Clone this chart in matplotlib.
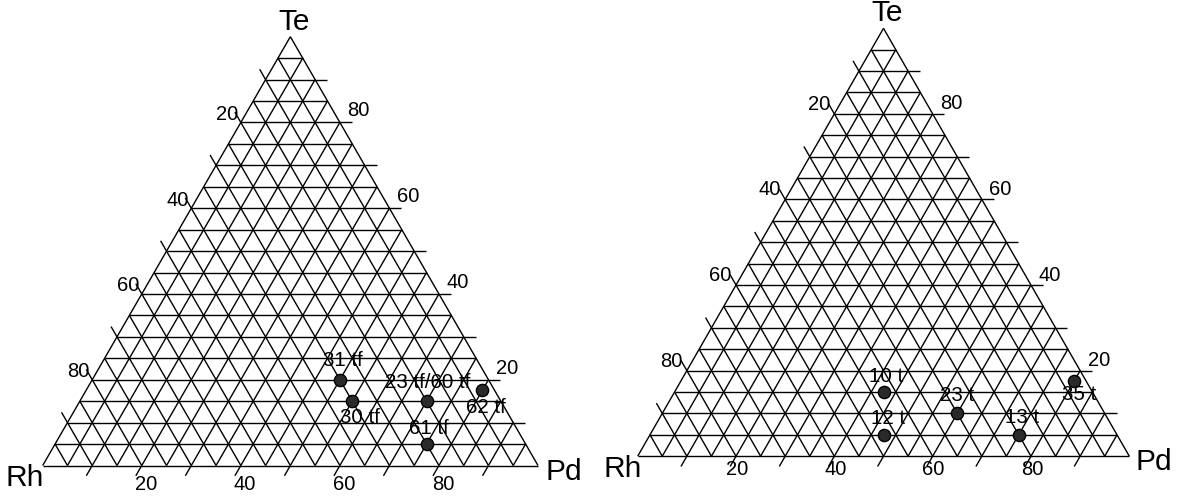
import numpy as np
import matplotlib.pyplot as plt

plt.rcParams['font.family'] = ['Liberation Sans', 'DejaVu Sans']

# compositions in % (Rh, Pd, Te)
left_names = ['31 tf', '30 tf', '23 tf/60 tf', '62 tf', '61 tf']
left_rh = [30, 30, 15, 2.5, 20]
left_pd = [50, 55, 70, 80, 75]
left_te = [20, 15, 15, 17.5, 5]

right_names = ['10 t', '12 t', '23 t', '13 t', '35 t']
right_rh = [42.5, 47.5, 30, 20, 2.5]
right_pd = [42.5, 47.5, 60, 75, 80]
right_te = [15, 5, 10, 5, 17.5]

tick_values = [20, 40, 60, 80]
corner_names = ['Rh', 'Pd', 'Te']

W, H = 1177, 497
H3 = np.sqrt(3) / 2
fig = plt.figure(figsize=(W / 100, H / 100), dpi=100)


def to_xy(pd, te):
    pd = np.asarray(pd, dtype=float) / 100
    te = np.asarray(te, dtype=float) / 100
    return pd + te / 2, te * H3


def add_tri_axes(x_rh, x_pd, y_base, y_top):
    # place an axes so that the triangle lands on the given pixel corners
    sx = x_pd - x_rh
    sy = (y_base - y_top) / H3
    m = 0.15
    left = x_rh - m * sx
    bottom = (H - y_base) - m * sy
    ax = fig.add_axes([left / W, bottom / H, (1 + 2 * m) * sx / W, (H3 + 2 * m) * sy / H])
    ax.set_xlim(-m, 1 + m)
    ax.set_ylim(-m, H3 + m)
    ax.axis('off')
    return ax


def seg(ax, p, q):
    ax.plot([p[0], q[0]], [p[1], q[1]], color='black', lw=1.0, solid_capstyle='butt')


def label(ax, pd, te, text, dx, dy, size, ha='center', va='center'):
    x, y = to_xy(pd, te)
    ax.annotate(text, (x, y), xytext=(dx, -dy), textcoords='offset pixels',
                ha=ha, va=va, fontsize=size, color='black', annotation_clip=False)


def draw_ternary(ax, rh, pd, te, names, name_off, tick_off, corner_off):
    tl = 0.024
    for i in range(20):
        f = i * 5
        seg(ax, to_xy(0, f), to_xy(100 - f, f))          # const Te
        seg(ax, to_xy(f, 0), to_xy(f, 100 - f))          # const Pd
        seg(ax, to_xy(100 - f, 0), to_xy(0, 100 - f))    # const Rh
    for f in range(10, 100, 10):
        x, y = to_xy(100 - f, f)
        seg(ax, (x, y), (x + tl, y))
        x, y = to_xy(f, 0)
        seg(ax, (x, y), (x - 0.5 * tl, y - H3 * tl))
        x, y = to_xy(0, 100 - f)
        seg(ax, (x, y), (x - 0.5 * tl, y + H3 * tl))

    for v in tick_values:
        label(ax, v, 0, str(v), *tick_off[0], 14.5)
        label(ax, 0, 100 - v, str(v), *tick_off[1], 14.5)
        label(ax, 100 - v, v, str(v), *tick_off[2], 14.5)

    label(ax, 0, 0, corner_names[0], *corner_off[0], 21.5, ha='right')
    label(ax, 100, 0, corner_names[1], *corner_off[1], 21.5, ha='left')
    label(ax, 0, 100, corner_names[2], *corner_off[2], 21.5)

    x, y = to_xy(pd, te)
    ax.plot(x, y, 'o', ms=8.8, mfc='#2a2a2a', mec='black', mew=1.0, zorder=5)
    for xi, yi, n, (dx, dy) in zip(x, y, names, name_off):
        ax.annotate(n, (xi, yi), xytext=(dx, -dy), textcoords='offset pixels',
                    ha='center', va='center', fontsize=14.8, color='black',
                    annotation_clip=False, zorder=6)


ax1 = add_tri_axes(42.7, 538.0, 465.5, 36.7)
draw_ternary(ax1, left_rh, left_pd, left_te, left_names,
             [(3, -19), (8, 16), (1.5, -18.5), (4, 17), (2, -16)],
             [(4, 19.5), (-14, -8), (18.5, -11.5)],
             [(1, 12.5), (7, 6), (3.5, -15)])

ax2 = add_tri_axes(637.7, 1129.3, 456.2, 28.3)
draw_ternary(ax2, right_rh, right_pd, right_te, right_names,
             [(3, -16), (5, -16), (0, -18), (3, -17.5), (5, 13)],
             [(1, 13), (-15.5, -9.5), (18.5, -10)],
             [(4, 13.3), (5.7, 6), (3.4, -15)])

fig.savefig('out.png', dpi=100, facecolor='white')
